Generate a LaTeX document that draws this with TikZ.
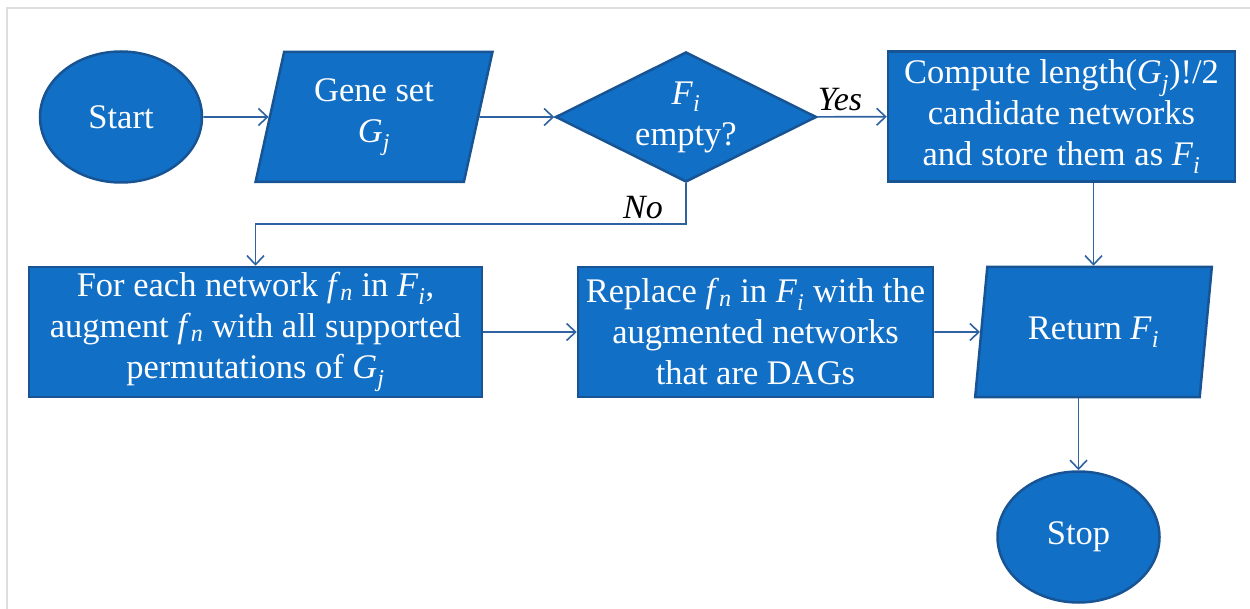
\documentclass[tikz,border=0pt]{standalone}
\usepackage{fontspec}
\setmainfont{Liberation Serif}
\usetikzlibrary{shapes.geometric,arrows.meta,calc}
\definecolor{boxfill}{RGB}{17,111,198}
\definecolor{boxedge}{RGB}{24,84,148}
\definecolor{flow}{RGB}{46,98,160}
\definecolor{frameline}{RGB}{222,222,222}
% italic variable with italic subscript
\newcommand{\vsub}[2]{\textit{#1}\textsubscript{\textit{#2}}}
\begin{document}
\begin{tikzpicture}[x=1pt,y=-1pt,
  base/.style={fill=boxfill,draw=boxedge,line width=2.5pt,text=white,
    font=\fontsize{34.5}{41}\selectfont,align=center,inner sep=0pt},
  term/.style={base,ellipse,minimum width=162,minimum height=131},
  proc/.style={base,rectangle,minimum height=130},
  io/.style={base,trapezium,trapezium left angle=76,trapezium right angle=104,
    trapezium stretches=true,minimum width=237,minimum height=130},
  dec/.style={base,diamond,aspect=2,minimum width=261,minimum height=130},
  flowline/.style={draw=flow,line width=1.6pt,-{Straight Barb[length=9pt,width=17pt]}},
  lbl/.style={font=\fontsize{34}{38}\selectfont\itshape,text=black}]
\useasboundingbox (0,0) rectangle (1250,609);
% light frame on the top and left
\draw[frameline,line width=1.2pt] (1250,8) -- (7,8) -- (7,609);

% nodes
\node[term] (start) at (121,117) {Start};
\node[io] (gene) at (374,117) {Gene set\\\vsub{G}{j}};
\node[dec] (dec) at (686,117) {\vsub{F}{i}\\empty?};
\node[proc,minimum width=347] (cmp) at (1061.5,116.5)
  {Compute length(\vsub{G}{j})!/2\\candidate networks\\and store them as \vsub{F}{i}};
\node[proc,minimum width=453] (fe) at (255.5,332)
  {For each network \vsub{f}{n} in \vsub{F}{i},\\augment \vsub{f}{n} with all supported\\permutations of \vsub{G}{j}};
\node[proc,minimum width=355] (rep) at (755.5,332)
  {Replace \vsub{f}{n} in \vsub{F}{i} with the\\augmented networks\\that are DAGs};
\node[io] (ret) at (1093.5,332) {Return \vsub{F}{i}};
\node[term] (stop) at (1078.5,537) {Stop};

% connectors
\draw[flowline] (start) -- (gene);
\draw[flowline] (gene) -- (dec);
\draw[flowline] (dec) -- (cmp);
\draw[flowline] (dec.south) -- ++(0,41) -| (fe.north);
\draw[flowline] (ret.north |- cmp.south) -- (ret.north);
\draw[flowline] (fe) -- (rep);
\draw[flowline] (rep) -- (ret);
\draw[flowline] (stop.north |- ret.south) -- (stop.north);

% branch labels
\node[lbl] (yes) at (840,100) {Yes};
\node[lbl] (no) at (643,208) {No};
\end{tikzpicture}
\end{document}
